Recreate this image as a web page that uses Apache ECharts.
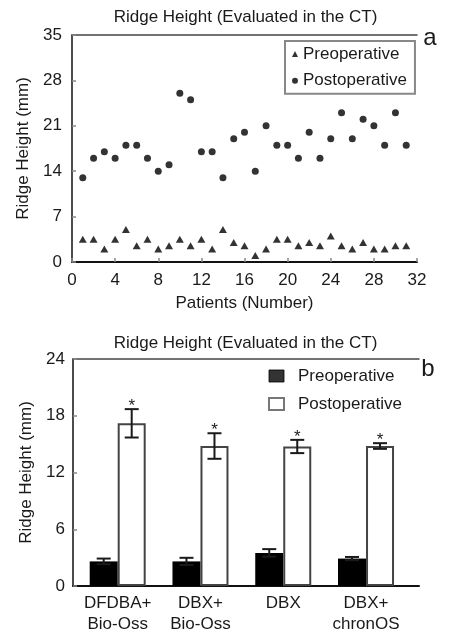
<!DOCTYPE html>
<html>
<head>
<meta charset="utf-8">
<title>Ridge Height</title>
<script src="https://cdn.jsdelivr.net/npm/echarts@6/dist/echarts.min.js"></script>
<style>
  html, body { margin: 0; padding: 0; background: #fff; }
  #chart { width: 454px; height: 631px; }
</style>
</head>
<body>
<div id="chart"></div>
<script>
"use strict";

/* ---------- panel a: per patient ---------- */
const patientNo    = [1, 2, 3, 4, 5, 6, 7, 8, 9, 10, 11, 12, 13, 14, 15, 16, 17, 18, 19, 20, 21, 22, 23, 24, 25, 26, 27, 28, 29, 30, 31];
const preopHeight  = [3.5, 3.5, 2, 3.5, 5, 2.5, 3.5, 2, 2.5, 3.5, 2.5, 3.5, 2, 5, 3, 2.5, 1, 2, 3.5, 3.5, 2.5, 3, 2.5, 4, 2.5, 2, 3, 2, 2, 2.5, 2.5];
const postopHeight = [13, 16, 17, 16, 18, 18, 16, 14, 15, 26, 25, 17, 17, 13, 19, 20, 14, 21, 18, 18, 16, 20, 16, 19, 23, 19, 22, 21, 18, 23, 18];

/* ---------- panel b: group means ± SD ---------- */
const groupNames = ["DFDBA+\nBio-Oss", "DBX+\nBio-Oss", "DBX", "DBX+\nchronOS"];
const groupPos   = [1, 2, 3, 4];
const preMean    = [2.6, 2.6, 3.5, 2.9];
const preErr     = [0.3, 0.38, 0.4, 0.17];
const postMean   = [17.2, 14.8, 14.75, 14.8];
const postErr    = [1.5, 1.35, 0.7, 0.3];

const FONT = '"Liberation Sans", Arial, sans-serif';
const INK  = "#1a1a1a";
const BAR_W = 28;
const CAP_HALF = 7;

const chart = echarts.init(document.getElementById("chart"), null, { renderer: "canvas" });

function axisLine(width, color) {
  return { show: true, lineStyle: { color: color || "#111", width: width } };
}
const tickIn = { show: true, inside: true, length: 4, lineStyle: { color: "#888", width: 1.5 } };
const label17 = { fontSize: 17, color: INK, fontFamily: FONT };

// error bars (+ asterisk) drawn on top of the bars
function errorBars(side, withStar) {
  return function (params, api) {
    const x = api.value(0), mean = api.value(1), err = api.value(2);
    const hi = api.coord([x, mean + err]);
    const lo = api.coord([x, mean - err]);
    const cx = hi[0] + side * BAR_W / 2;
    const st = { stroke: INK, lineWidth: 2 };
    const kids = [
      { type: "line", shape: { x1: cx, y1: hi[1], x2: cx, y2: lo[1] }, style: st },
      { type: "line", shape: { x1: cx - CAP_HALF, y1: hi[1], x2: cx + CAP_HALF, y2: hi[1] }, style: st },
      { type: "line", shape: { x1: cx - CAP_HALF, y1: lo[1], x2: cx + CAP_HALF, y2: lo[1] }, style: st }
    ];
    if (withStar) {
      kids.push({
        type: "text",
        style: {
          text: "*", x: cx, y: hi[1] - 3,
          align: "center", verticalAlign: "middle",
          textAlign: "center", textVerticalAlign: "middle",
          font: "17px " + FONT, fill: INK
        }
      });
    }
    return { type: "group", children: kids };
  };
}

function textEl(txt, x, y, size) {
  return {
    type: "text", x: x, y: y, silent: true,
    style: {
      text: txt, font: size + "px " + FONT, fill: INK,
      align: "center", verticalAlign: "middle",
      textAlign: "center", textVerticalAlign: "middle"
    }
  };
}

const option = {
  backgroundColor: "#fff",
  animation: false,
  textStyle: { fontFamily: FONT },
  graphic: [
    textEl("Ridge Height (Evaluated in the CT)", 245.5, 17, 17),
    textEl("Ridge Height (Evaluated in the CT)", 245.5, 343, 17),
    textEl("a", 430, 38, 24),
    textEl("b", 428, 369, 24)
  ],
  legend: [
    {
      orient: "vertical", left: 285, top: 41,
      padding: [3, 8, 3, 7], itemGap: 6.7,
      itemWidth: 6, itemHeight: 6,
      borderColor: "#888", borderWidth: 2,
      textStyle: { fontSize: 17, color: INK, fontFamily: FONT, lineHeight: 20 },
      data: [
        { name: "Preoperative", icon: "triangle" },
        { name: "Postoperative", icon: "circle" }
      ]
    },
    {
      orient: "vertical", left: 268, top: 366,
      padding: 0, itemGap: 8,
      itemWidth: 15, itemHeight: 12,
      textStyle: { fontSize: 17, color: INK, fontFamily: FONT, lineHeight: 20, padding: [0, 0, 0, 9] },
      data: [
        { name: "Preoperative", icon: "rect", itemStyle: { color: "#000", borderColor: "#000", borderWidth: 1 } },
        { name: "Postoperative", icon: "rect", itemStyle: { color: "#fff", borderColor: "#555", borderWidth: 2 } }
      ]
    }
  ],
  grid: [
    { left: 72, right: 37, top: 35, bottom: 369, containLabel: false, outerBoundsMode: "none" },
    { left: 73, right: 35, top: 359, bottom: 45, containLabel: false, outerBoundsMode: "none" }
  ],
  xAxis: [
    {
      gridIndex: 0, type: "value", min: 0, max: 32, interval: 4,
      axisLine: axisLine(2), axisTick: tickIn,
      axisLabel: Object.assign({ margin: 10 }, label17),
      splitLine: { show: false },
      name: "Patients (Number)", nameLocation: "middle", nameGap: 33,
      nameTextStyle: label17
    },
    {
      gridIndex: 0, type: "value", position: "top", min: 0, max: 32,
      axisLine: axisLine(1.5, "#444"), axisTick: { show: false },
      axisLabel: { show: false }, splitLine: { show: false }
    },
    {
      gridIndex: 1, type: "value", min: 0.46, max: 4.64,
      axisLine: axisLine(2), axisTick: { show: false },
      axisLabel: Object.assign({
        margin: 7, lineHeight: 21,
        customValues: groupPos,
        formatter: v => groupNames[Math.round(v) - 1] || ""
      }, label17),
      splitLine: { show: false }
    },
    {
      gridIndex: 1, type: "value", position: "top", min: 0.46, max: 4.64,
      axisLine: axisLine(1.5, "#444"), axisTick: { show: false },
      axisLabel: { show: false }, splitLine: { show: false }
    }
  ],
  yAxis: [
    {
      gridIndex: 0, type: "value", min: 0, max: 35, interval: 7,
      axisLine: axisLine(1.5), axisTick: tickIn,
      axisLabel: Object.assign({ margin: 10 }, label17),
      splitLine: { show: false },
      name: "Ridge Height (mm)", nameLocation: "middle", nameGap: 35,
      nameTextStyle: label17
    },
    {
      gridIndex: 1, type: "value", min: 0, max: 24, interval: 6,
      axisLine: axisLine(1.5), axisTick: tickIn,
      axisLabel: Object.assign({ margin: 8 }, label17),
      splitLine: { show: false },
      name: "Ridge Height (mm)", nameLocation: "middle", nameGap: 35,
      nameTextStyle: label17
    }
  ],
  series: [
    {
      name: "Preoperative", type: "scatter", xAxisIndex: 0, yAxisIndex: 0,
      symbol: "triangle", symbolSize: [8, 7],
      itemStyle: { color: "#000" },
      data: patientNo.map((n, i) => [n, preopHeight[i]])
    },
    {
      name: "Postoperative", type: "scatter", xAxisIndex: 0, yAxisIndex: 0,
      symbol: "circle", symbolSize: 7,
      itemStyle: { color: "#000" },
      data: patientNo.map((n, i) => [n, postopHeight[i]])
    },
    {
      name: "Preoperative", type: "bar", xAxisIndex: 2, yAxisIndex: 1,
      barWidth: BAR_W, barGap: "0%",
      itemStyle: { color: "#000" },
      data: groupPos.map((p, i) => [p, preMean[i]])
    },
    {
      name: "Postoperative", type: "bar", xAxisIndex: 2, yAxisIndex: 1,
      barWidth: BAR_W, barGap: "0%",
      itemStyle: { color: "#fff", borderColor: "#444", borderWidth: 2 },
      data: groupPos.map((p, i) => [p, postMean[i]])
    },
    {
      type: "custom", xAxisIndex: 2, yAxisIndex: 1, z: 5,
      renderItem: errorBars(-1, false),
      encode: { x: 0, y: 1 },
      data: groupPos.map((p, i) => [p, preMean[i], preErr[i]])
    },
    {
      type: "custom", xAxisIndex: 2, yAxisIndex: 1, z: 5,
      renderItem: errorBars(1, true),
      encode: { x: 0, y: 1 },
      data: groupPos.map((p, i) => [p, postMean[i], postErr[i]])
    }
  ]
};

chart.setOption(option);
</script>
</body>
</html>
